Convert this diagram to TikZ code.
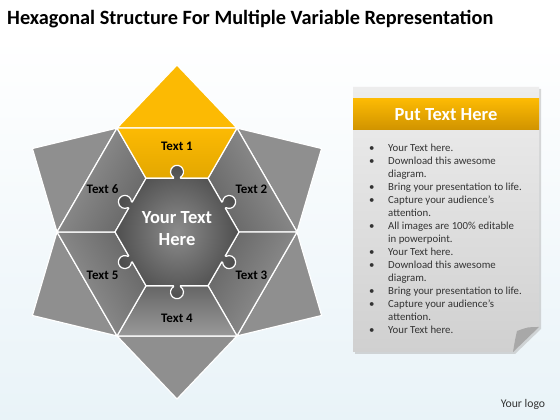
\documentclass[tikz,border=0pt]{standalone}
\usepackage{fontspec}
\setmainfont{Carlito}
\definecolor{gold}{HTML}{FCBA03}
\definecolor{golddark}{HTML}{E3A700}
\definecolor{headdark}{HTML}{D09300}
\definecolor{tipgray}{HTML}{8F8F8F}
\definecolor{segdark}{HTML}{666666}
\definecolor{seglight}{HTML}{999999}
\definecolor{coredark}{HTML}{4E4E4E}
\definecolor{corelight}{HTML}{8C8C8C}
\definecolor{panellight}{HTML}{EDEDED}
\definecolor{panelgray}{HTML}{D0D0D0}
\definecolor{foldgray}{HTML}{A8A8A8}
\definecolor{bodytext}{HTML}{333333}
\definecolor{skyback}{HTML}{E9F3F8}
\newcommand{\bulletline}[1]{\makebox[19pt][l]{\textbullet}#1}
\newcommand{\wrapline}[1]{\hspace*{19pt}#1}
\begin{document}
\begin{tikzpicture}[x = 1pt, y = 1pt,
  seg/.style = {draw = white, line width = 1.2pt, line join = round},
  segtext/.style = {font = \fontsize{13}{15}\selectfont\bfseries, text = black},
  every node/.append style = {inner sep = 0pt}]

  \useasboundingbox (0, 0) rectangle (560, 420);
  \fill[white] (0, 0) rectangle (560, 420);
  \shade[top color = white, bottom color = skyback] (0, 0) rectangle (560, 382);

  \node[anchor = base west, font = \fontsize{20.3}{24}\selectfont\bfseries] (title) at (7, 395) {Hexagonal Structure For Multiple Variable Representation};

  % star around the hexagon
  \begin{scope}[shift = {(177, 188)}]
    \foreach \a in {30, -30, -90, -150, 150}
      \filldraw[seg, fill = tipgray] (\a - 30 : 120) -- (\a : 167) -- (\a + 30 : 120) -- cycle;
    \filldraw[seg, fill = gold] (60 : 120) -- (90 : 167) -- (120 : 120) -- cycle;

    \foreach \a in {30, -30, -90, -150, 150}
      \shadedraw[seg, top color = seglight, bottom color = segdark, shading angle = \a - 90]
        (\a - 30 : 62) -- (\a - 30 : 120) -- (\a + 30 : 120) -- (\a + 30 : 62) -- cycle;
    \shadedraw[seg, top color = gold, bottom color = golddark]
      (60 : 62) -- (60 : 120) -- (120 : 120) -- (120 : 62) -- cycle;

    % puzzle core
    \shadedraw[seg, inner color = corelight, outer color = coredark] (60 : 62)
      \foreach \a in {0, 60, ..., 300} {
        -- ([rotate = \a] 3.5, 53.7) -- ([rotate = \a] 3.5, 54.7)
        arc[start angle = -57.4 + \a, end angle = 237.4 + \a, radius = 6.5]
        -- ([rotate = \a] -3.5, 53.7) -- ([rotate = \a] -31, 53.7)
      } -- cycle;

    \node[segtext] (t1) at (90 : 86) {Text 1};
    \node[segtext] (t2) at (30 : 86) {Text 2};
    \node[segtext] (t3) at (-30 : 86) {Text 3};
    \node[segtext] (t4) at (-90 : 86) {Text 4};
    \node[segtext] (t5) at (-150 : 86) {Text 5};
    \node[segtext] (t6) at (150 : 86) {Text 6};

    \node[font = \fontsize{18.5}{22}\selectfont\bfseries, text = white, align = center] (core) at (0, 3) {Your Text\\Here};
  \end{scope}

  % note on the right
  \fill[gray!60, opacity = 0.5] (355, 331) -- (541, 331) -- (541, 91) -- (515, 66) -- (355, 66) -- cycle;
  \shade[top color = panellight, bottom color = panelgray] (353, 333) -- (539, 333) -- (539, 93) -- (513, 68) -- (353, 68) -- cycle;
  \shade[top color = gold, bottom color = headdark] (353, 321) rectangle (539, 290);
  \fill[foldgray] (539, 93) .. controls (528, 93) .. (517, 89) .. controls (515, 80) .. (513, 68) -- cycle;

  \node[font = \fontsize{18.5}{22}\selectfont\bfseries, text = white] (head) at (446, 305) {Put Text Here};

  \node[anchor = north west, align = left, text = bodytext, font = \fontsize{10.8}{13}\selectfont] (list) at (369, 276) {%
    \bulletline{Your Text here.}\\
    \bulletline{Download this awesome}\\
    \wrapline{diagram.}\\
    \bulletline{Bring your presentation to life.}\\
    \bulletline{Capture your audience’s}\\
    \wrapline{attention.}\\
    \bulletline{All images are 100\% editable}\\
    \wrapline{in powerpoint.}\\
    \bulletline{Your Text here.}\\
    \bulletline{Download this awesome}\\
    \wrapline{diagram.}\\
    \bulletline{Bring your presentation to life.}\\
    \bulletline{Capture your audience’s}\\
    \wrapline{attention.}\\
    \bulletline{Your Text here.}};

  \node[font = \fontsize{11.7}{14}\selectfont, text = bodytext] (logo) at (523, 16) {Your logo};

\end{tikzpicture}
\end{document}
